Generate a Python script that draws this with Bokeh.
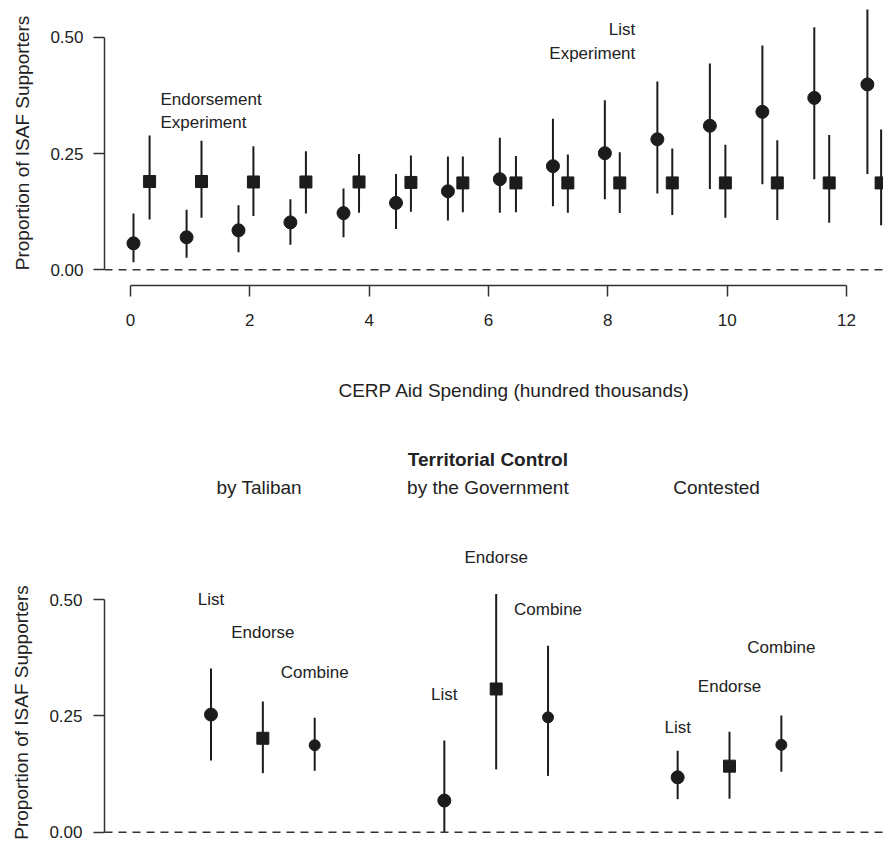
from bokeh.plotting import figure
from bokeh.models import Range1d, FixedTicker, PrintfTickFormatter, Span, ColumnDataSource
from bokeh.layouts import column
from bokeh.core.properties import value
from bokeh.embed import file_html
from bokeh.resources import INLINE

# ---------------- data: top panel (CERP aid spending) ----------------
list_x = [0.05, 0.94, 1.81, 2.68, 3.57, 4.45, 5.32, 6.19, 7.08, 7.95, 8.83, 9.71, 10.59, 11.46, 12.35]
list_est = [0.057, 0.070, 0.085, 0.102, 0.122, 0.144, 0.169, 0.195, 0.223, 0.251, 0.281, 0.310, 0.340, 0.370, 0.399]
list_lo = [0.016, 0.026, 0.038, 0.054, 0.070, 0.088, 0.106, 0.123, 0.137, 0.152, 0.164, 0.174, 0.184, 0.195, 0.206]
list_hi = [0.121, 0.129, 0.139, 0.152, 0.175, 0.206, 0.244, 0.284, 0.325, 0.365, 0.405, 0.444, 0.483, 0.522, 0.560]

end_x = [0.32, 1.19, 2.06, 2.94, 3.83, 4.70, 5.57, 6.46, 7.33, 8.20, 9.08, 9.97, 10.84, 11.71, 12.58]
end_est = [0.190, 0.190, 0.189, 0.189, 0.189, 0.188, 0.187, 0.187, 0.187, 0.187, 0.187, 0.187, 0.187, 0.187, 0.187]
end_lo = [0.108, 0.112, 0.116, 0.121, 0.123, 0.125, 0.124, 0.124, 0.123, 0.122, 0.118, 0.112, 0.107, 0.101, 0.096]
end_hi = [0.289, 0.278, 0.266, 0.255, 0.249, 0.246, 0.244, 0.245, 0.248, 0.253, 0.261, 0.269, 0.279, 0.290, 0.302]

x_ticks = [0, 2, 4, 6, 8, 10, 12]
y_ticks = [0.0, 0.25, 0.5]

# ---------------- data: bottom panel (territorial control) ----------------
control_groups = ["by Taliban", "by the Government", "Contested"]
group_x = [1.93, 6.34, 10.75]
methods = ["List", "Endorse", "Combine",
           "List", "Endorse", "Combine",
           "List", "Endorse", "Combine"]
tc_x = [1, 2, 3, 5.5, 6.5, 7.5, 10, 11, 12]
tc_est = [0.253, 0.202, 0.187, 0.068, 0.308, 0.247, 0.118, 0.142, 0.188]
tc_lo = [0.154, 0.127, 0.132, 0.000, 0.135, 0.121, 0.071, 0.072, 0.130]
tc_hi = [0.352, 0.281, 0.246, 0.197, 0.512, 0.401, 0.175, 0.216, 0.251]
tc_label_y = [0.500, 0.430, 0.343, 0.296, 0.591, 0.479, 0.225, 0.313, 0.397]

FONT = "Liberation Sans"
INK = "#1c1c1c"
TXT = "#222222"


def style_axis(ax, ticks):
    ax.ticker = FixedTicker(ticks=ticks)
    ax.minor_tick_line_color = None
    ax.major_tick_in = 0
    ax.major_tick_out = 11
    ax.major_tick_line_width = 1.5
    ax.major_tick_line_color = "#333333"
    ax.axis_line_width = 1.5
    ax.axis_line_color = "#333333"
    ax.major_label_text_font = FONT
    ax.major_label_text_font_size = "17px"
    ax.major_label_text_color = TXT
    ax.axis_label_text_font = FONT
    ax.axis_label_text_font_size = "19px"
    ax.axis_label_text_font_style = "normal"
    ax.axis_label_text_color = TXT


def blank_fig(**kw):
    f = figure(output_backend="svg", toolbar_location=None, outline_line_color=None,
               background_fill_color="white", border_fill_color="white",
               min_border_right=0, min_border_top=0, **kw)
    f.grid.visible = False
    return f


# ================= top figure =================
p1 = blank_fig(width=883, height=340,
               x_range=Range1d(-0.4357, 12.62), y_range=Range1d(-0.0338, 0.5796),
               min_border_left=104, min_border_bottom=55)

style_axis(p1.xaxis[0], x_ticks)
p1.xaxis[0].bounds = (0, 12)
p1.xaxis[0].major_label_standoff = 17

style_axis(p1.yaxis[0], y_ticks)
p1.yaxis[0].bounds = (0, 0.5)
p1.yaxis[0].formatter = PrintfTickFormatter(format="%.2f")
p1.yaxis[0].major_label_standoff = 10
p1.yaxis[0].axis_label = "Proportion of ISAF Supporters"
p1.yaxis[0].axis_label_standoff = 14

p1.add_layout(Span(location=0, dimension="width", line_color="#333333",
                   line_width=1.5, line_dash="8 6"))

p1.segment(x0=list_x, y0=list_lo, x1=list_x, y1=list_hi, line_color=INK, line_width=2)
p1.scatter(list_x, list_est, marker="circle", size=13, color=INK)
p1.segment(x0=end_x, y0=end_lo, x1=end_x, y1=end_hi, line_color=INK, line_width=2)
p1.scatter(end_x, end_est, marker="square", size=12, color=INK)

p1.text(x=[0.503], y=[0.342], text=["Endorsement\nExperiment"], text_align="left",
        text_baseline="middle", text_font=value(FONT), text_font_size="17px",
        text_color=TXT, text_line_height=1.25)
p1.text(x=[8.46], y=[0.491], text=["List\nExperiment"], text_align="right",
        text_baseline="middle", text_font=value(FONT), text_font_size="17px",
        text_color=TXT, text_line_height=1.25)

# ================= middle strip (x title, headers) and bottom panel =================
bx_range = Range1d(-1.054, 13.97)
split_y = 0.5671  # boundary between the strip and the bottom panel (same data scale)

pm = blank_fig(width=883, height=228, x_range=bx_range, y_range=Range1d(split_y, 1.0574),
               x_axis_location=None, y_axis_location=None,
               min_border_left=99, min_border_bottom=0)

p2 = blank_fig(width=883, height=288, x_range=bx_range, y_range=Range1d(-0.0523, split_y),
               x_axis_location=None, min_border_left=99, min_border_bottom=0)

style_axis(p2.yaxis[0], y_ticks)
p2.yaxis[0].bounds = (0, 0.5)
p2.yaxis[0].formatter = PrintfTickFormatter(format="%.2f")
p2.yaxis[0].major_label_standoff = 11
p2.yaxis[0].axis_label = "Proportion of ISAF Supporters"
p2.yaxis[0].axis_label_standoff = 14

p2.add_layout(Span(location=0, dimension="width", line_color="#333333",
                   line_width=1.5, line_dash="8 6"))

# x-axis title of the upper panel and the territorial-control headers
pm.text(x=[6.85], y=[0.950], text=["CERP Aid Spending (hundred thousands)"], text_align="center",
        text_baseline="middle", text_font=value(FONT), text_font_size="19px", text_color=TXT)
pm.text(x=[group_x[1]], y=[0.8015], text=["Territorial Control"], text_align="center",
        text_baseline="middle", text_font=value(FONT), text_font_size="19px",
        text_font_style="bold", text_color=TXT)
pm.text(x=group_x, y=[0.7415] * 3, text=control_groups, text_align="center",
        text_baseline="middle", text_font=value(FONT), text_font_size="19px",
        text_color=TXT)

src = ColumnDataSource(dict(x=tc_x, est=tc_est, lo=tc_lo, hi=tc_hi))
p2.segment(x0="x", y0="lo", x1="x", y1="hi", source=src, line_color=INK, line_width=2)

idx_list = [i for i, m in enumerate(methods) if m == "List"]
idx_end = [i for i, m in enumerate(methods) if m == "Endorse"]
idx_comb = [i for i, m in enumerate(methods) if m == "Combine"]
p2.scatter([tc_x[i] for i in idx_list], [tc_est[i] for i in idx_list],
           marker="circle", size=13, color=INK)
p2.scatter([tc_x[i] for i in idx_end], [tc_est[i] for i in idx_end],
           marker="square", size=12, color=INK)
p2.scatter([tc_x[i] for i in idx_comb], [tc_est[i] for i in idx_comb],
           marker="circle", size=11, color=INK)

# method labels: each drawn in whichever strip holds it
lo_idx = [i for i in range(len(methods)) if tc_label_y[i] < split_y]
hi_idx = [i for i in range(len(methods)) if tc_label_y[i] >= split_y]
for fig, ids in ((p2, lo_idx), (pm, hi_idx)):
    if ids:
        fig.text(x=[tc_x[i] for i in ids], y=[tc_label_y[i] for i in ids],
                 text=[methods[i] for i in ids], text_align="center", text_baseline="middle",
                 text_font=value(FONT), text_font_size="17px", text_color=TXT)

layout = column(p1, pm, p2, spacing=0)
open("out.html", "w").write(file_html(layout, INLINE))
